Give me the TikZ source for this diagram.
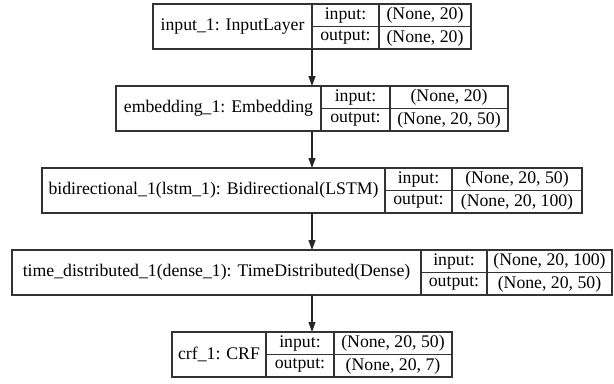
\documentclass[tikz,border=0pt]{standalone}
\usepackage{fontspec}
\setmainfont{Liberation Serif}
\usetikzlibrary{arrows.meta}

% One layer record: label cell, port names and shapes.
% #1 id, #2 top, #3 left, #4 divider 1, #5 divider 2, #6 right,
% #7 label, #8 input shape, #9 output shape
\newcommand\layerrecord[9]{%
  \node[cell, anchor=north west, minimum width={(#4-#3)*0.75pt},
        minimum height=45*0.75pt] (#1) at (#3,#2) {#7};
  \node[cell, anchor=north west, minimum width={(#5-#4)*0.75pt}] (#1-in) at (#4,#2) {input:};
  \node[cell, anchor=north west, minimum width={(#5-#4)*0.75pt}] (#1-out) at (#4,#2+22.5) {output:};
  \node[cell, anchor=north west, minimum width={(#6-#5)*0.75pt}] (#1-inv) at (#5,#2) {#8};
  \node[cell, anchor=north west, minimum width={(#6-#5)*0.75pt}] (#1-outv) at (#5,#2+22.5) {#9};
  \node[hook, minimum width={(#6-#3)*0.75pt}, minimum height=45*0.75pt,
        anchor=north] (#1-box) at ({(#3+#6)/2},#2) {};
}

\begin{document}
\begin{tikzpicture}[x=0.75pt, y=-0.75pt,
  cell/.style={draw=black!80, line width=0.9pt, rectangle, inner sep=0pt, outer sep=0pt,
               minimum height=22.5*0.75pt, font=\fontsize{13.3}{15}\selectfont},
  hook/.style={rectangle, inner sep=0pt, outer sep=0pt},
  link/.style={draw=black!85, line width=0.8pt, -{Triangle[length=7.5pt, width=5.25pt]}}]
  \useasboundingbox (0,0) rectangle (614,383);

  \layerrecord{inp}{4}{153}{312}{379}{471}{input\_1: InputLayer}{(None, 20)}{(None, 20)}
  \layerrecord{emb}{86}{116}{321}{390}{508}{embedding\_1: Embedding}{(None, 20)}{(None, 20, 50)}
  \layerrecord{bid}{168}{42}{385}{452}{582}{bidirectional\_1(lstm\_1): Bidirectional(LSTM)}{(None, 20, 50)}{(None, 20, 100)}
  \layerrecord{tdd}{250}{12}{421}{487}{612}{time\_distributed\_1(dense\_1): TimeDistributed(Dense)}{(None, 20, 100)}{(None, 20, 50)}
  \layerrecord{crf}{332}{172}{266}{334}{452}{crf\_1: CRF}{(None, 20, 50)}{(None, 20, 7)}

  \draw[link] (inp-box.south) -- (emb-box.north);
  \draw[link] (emb-box.south) -- (bid-box.north);
  \draw[link] (bid-box.south) -- (tdd-box.north);
  \draw[link] (tdd-box.south) -- (crf-box.north);
\end{tikzpicture}
\end{document}
